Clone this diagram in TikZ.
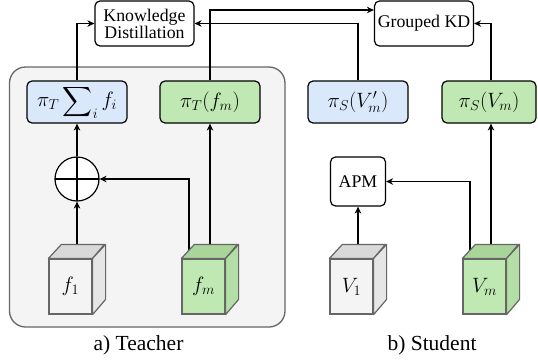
\documentclass[tikz,border=0pt]{standalone}
\usepackage{exscale}
\usepackage{fontspec}
\setmainfont{Liberation Serif}
\newfontfamily\timesfont{Liberation Serif}
\usetikzlibrary{arrows.meta,calc}
\definecolor{bluefill}{HTML}{DAE8FC}
\definecolor{greenfill}{HTML}{C0E8B2}
\definecolor{greentop}{HTML}{A9D59B}
\definecolor{greenside}{HTML}{B3DEA5}
\definecolor{grayfront}{HTML}{F4F4F4}
\definecolor{graytop}{HTML}{D9D9D9}
\definecolor{grayside}{HTML}{E6E6E6}
\definecolor{panelfill}{HTML}{F4F4F4}
\definecolor{stroke}{HTML}{666666}
\tikzset{
  boxfont/.style={font=\timesfont\fontsize{17.8}{20}\selectfont},
  mathfont/.style={font=\fontsize{20}{22}\selectfont},
  rbox/.style={draw=black, line width=1.2pt, rounded corners=5pt, boxfont, align=center, inner sep=0pt},
  mbox/.style={rbox, mathfont},
  arr/.style={line width=1.2pt, -{Stealth[length=7pt,width=6.5pt]}},
  cubefront/.style={draw=stroke, line width=1.2pt, minimum width=43pt, minimum height=55pt, inner sep=0pt, mathfont},
  cubeface/.style={draw=stroke, line width=1.2pt, line join=round},
  caption/.style={font=\timesfont\fontsize{21.5}{24}\selectfont}
}
\begin{document}
\begin{tikzpicture}[x=1pt,y=-1pt]
\useasboundingbox (0,0) rectangle (538,362);
% teacher panel
\draw[draw=stroke, fill=panelfill, line width=1.3pt, rounded corners=16pt] (9.5,67) rectangle (285,327);
% top boxes
\node[rbox, minimum width=99pt, minimum height=45pt] (KD) at (144.5,23.5) {Knowledge\\[-3pt]Distillation};
\node[rbox, minimum width=99pt, minimum height=45pt] (GKD) at (424,23.5) {Grouped KD};
% projection boxes
\node[mbox, fill=bluefill, minimum width=100pt, minimum height=42pt] (sumbox) at (77,102) {$\pi_T\displaystyle\sum\nolimits_i f_i$};
\node[mbox, fill=greenfill, minimum width=100pt, minimum height=42pt] (pTfm) at (210,102) {$\pi_T(f_m)$};
\node[mbox, fill=bluefill, minimum width=100pt, minimum height=42pt] (pSVp) at (358,102) {$\pi_S(V_m')$};
\node[mbox, fill=greenfill, minimum width=94pt, minimum height=42pt] (pSVm) at (489,102) {$\pi_S(V_m)$};
% plus and APM
\node[draw=black, fill=white, line width=1.2pt, circle, minimum size=44pt, inner sep=0pt,
  path picture={\draw[line width=1.2pt] (path picture bounding box.north) -- (path picture bounding box.south)
  (path picture bounding box.west) -- (path picture bounding box.east);}] (plus) at (77,179) {};
\node[rbox, fill=white, minimum width=55pt, minimum height=49pt] (APM) at (358,181.5) {APM};
% cube front faces (positions)
\node[cubefront, fill=grayfront] (f1) at (70.5,286.5) {$f_1$};
\node[cubefront, fill=greenfill] (fm) at (203.5,286.5) {$f_m$};
\node[cubefront, fill=grayfront] (V1) at (351.5,286.5) {$V_1$};
\node[cubefront, fill=greenfill] (Vm) at (484.5,286.5) {$V_m$};
% start points on cube tops
\coordinate (f1t) at ($(f1.north)+(6.5,-8)$);
\coordinate (fma) at ($(fm.north)+(-14.5,-3)$);
\coordinate (fmb) at ($(fm.north)+(6.5,-8)$);
\coordinate (V1t) at ($(V1.north)+(6.5,-8)$);
\coordinate (Vma) at ($(Vm.north)+(-14.5,-3)$);
\coordinate (Vmb) at ($(Vm.north)+(6.5,-8)$);
% connectors
\draw[arr] (f1t) -- (plus.south);
\draw[arr] (fma) |- (plus.east);
\draw[arr] (fmb) -- (pTfm.south);
\draw[arr] (plus.north) -- (sumbox.south);
\draw[arr] (sumbox.north) |- (KD.west);
\draw[arr] (pTfm.north) |- ([yshift=13.5pt]GKD.west);
\draw[arr] (pSVp.north) |- (KD.east);
\draw[arr] (Vmb |- pSVm.north) |- (GKD.east);
\draw[arr] (V1t) -- (APM.south);
\draw[arr] (Vma) |- (APM.east);
\draw[arr] (Vmb) -- (Vmb |- pSVm.south);
% cubes drawn over line starts
\foreach \c/\t/\s in {f1/graytop/grayside, fm/greentop/greenside, V1/graytop/grayside, Vm/greentop/greenside}{
  \draw[cubeface, fill=\t] (\c.north west) -- ++(13,-14) -- ++(43,0) -- (\c.north east) -- cycle;
  \draw[cubeface, fill=\s] (\c.north east) -- ++(13,-14) -- ++(0,55) -- (\c.south east) -- cycle;
}
% captions
\node[caption] (capA) at (138.5,345) {a) Teacher};
\node[caption] (capB) at (432,345) {b) Student};
\end{tikzpicture}
\end{document}
